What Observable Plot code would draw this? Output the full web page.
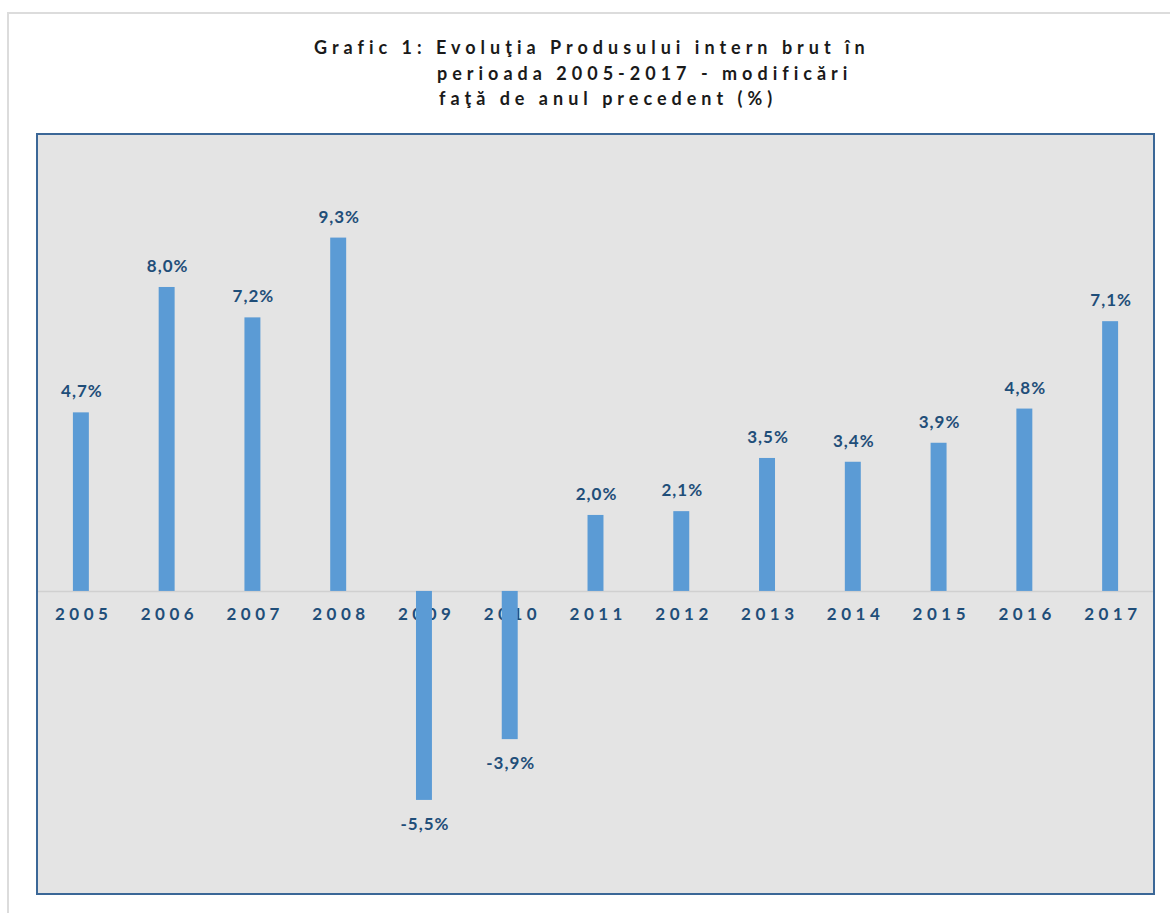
<!DOCTYPE html>
<html>
<head>
<meta charset="utf-8">
<script src="https://cdn.jsdelivr.net/npm/d3@7"></script>
<script src="https://cdn.jsdelivr.net/npm/@observablehq/plot@0.6"></script>
<style>
  html, body { margin: 0; padding: 0; width: 1170px; height: 913px; overflow: hidden; background: #fff; }
  .frame { position: absolute; left: 7px; top: 12px; width: 1250px; height: 1000px; border: 2px solid #dcdcdc; box-sizing: border-box; }
  .title { position: absolute; font-family: Lato, "Open Sans", sans-serif; font-weight: bold; font-size: 18px; letter-spacing: 5px; color: #1a1a1a; white-space: nowrap; line-height: 20px; }
  #box { position: absolute; left: 36px; top: 133px; width: 1115px; height: 758px; border: 2px solid #3b6797; background: #e4e4e4; }
  #box svg { display: block; }
</style>
</head>
<body>
<div class="frame"></div>
<div class="title" style="left:314px; top:37px;">Grafic 1: Evoluţia Produsului intern brut în</div>
<div class="title" style="left:437px; top:63px;">perioada 2005-2017 - modificări</div>
<div class="title" style="left:439px; top:88px;">faţă de anul precedent (%)</div>
<div id="box"></div>
<script>
const years = ["2005","2006","2007","2008","2009","2010","2011","2012","2013","2014","2015","2016","2017"];
const values = [4.7, 8.0, 7.2, 9.3, -5.5, -3.9, 2.0, 2.1, 3.5, 3.4, 3.9, 4.8, 7.1];
const valueLabels = ["4,7%","8,0%","7,2%","9,3%","-5,5%","-3,9%","2,0%","2,1%","3,5%","3,4%","3,9%","4,8%","7,1%"];

const data = years.map((y, i) => ({year: y, value: values[i], label: valueLabels[i]}));
const pos = data.filter(d => d.value >= 0);
const neg = data.filter(d => d.value < 0);

const textColor = "#1f4e79";
const font = "Lato, 'Open Sans', sans-serif";
const yearLS = 4.5, valLS = 1;

const chart = Plot.plot({
  width: 1115,
  height: 758,
  margin: 0,
  style: { background: "#e4e4e4", fontFamily: font },
  x: { domain: years, type: "band", paddingInner: 0.814, paddingOuter: 0.407, round: false, axis: null },
  y: { domain: [-7.95, 12], axis: null },
  marks: [
    Plot.ruleY([0], { stroke: "#d0d0d0", strokeWidth: 1.5 }),
    Plot.text(data, { x: "year", y: 0, text: "year", dy: 23, dx: yearLS / 2, fill: textColor, fontSize: 17, fontWeight: "bold" }),
    Plot.barY(data, { x: "year", y: "value", fill: "#5b9bd5" }),
    Plot.text(pos, { x: "year", y: "value", text: "label", dy: -21, dx: valLS / 2, fill: textColor, fontSize: 17, fontWeight: "bold" }),
    Plot.text(neg, { x: "year", y: "value", text: "label", dy: 24, dx: valLS / 2, fill: textColor, fontSize: 17, fontWeight: "bold" })
  ]
});
d3.select(chart).selectAll("text").each(function() {
  const t = this.textContent;
  if (years.includes(t)) this.style.letterSpacing = yearLS + "px";
  else if (valueLabels.includes(t)) this.style.letterSpacing = valLS + "px";
});
document.getElementById("box").appendChild(chart);
</script>
</body>
</html>
